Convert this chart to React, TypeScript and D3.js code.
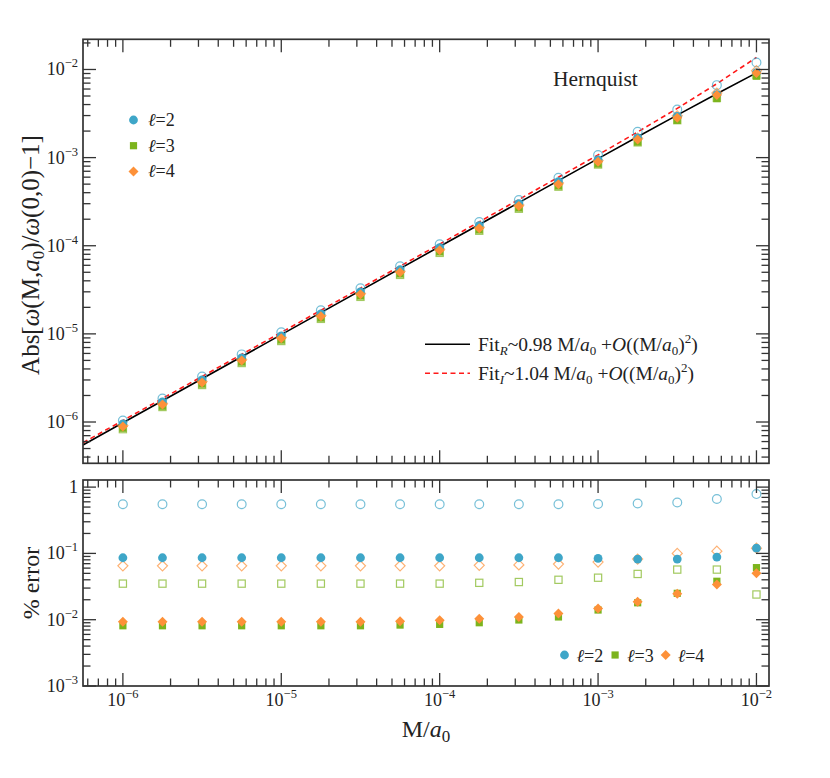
import React from 'react';
import * as d3 from 'd3';

// M/a0 sample points (quarter decades)
const massRatio = [1e-6, 1.778e-6, 3.162e-6, 5.623e-6, 1e-5, 1.778e-5, 3.162e-5, 5.623e-5, 1e-4, 1.778e-4, 3.162e-4, 5.623e-4, 1e-3, 1.778e-3, 3.162e-3, 5.623e-3, 1e-2];

// top panel: Abs[w(M,a0)/w(0,0)-1], filled = real part, open = imaginary part
const topRe2 = [9.5e-7, 1.69e-6, 3.0e-6, 5.34e-6, 9.5e-6, 1.69e-5, 3.0e-5, 5.34e-5, 9.5e-5, 1.69e-4, 3.0e-4, 5.33e-4, 9.45e-4, 1.67e-3, 2.94e-3, 5.17e-3, 9.2e-3];
const topRe3 = [8.5e-7, 1.51e-6, 2.69e-6, 4.78e-6, 8.5e-6, 1.51e-5, 2.69e-5, 4.78e-5, 8.5e-5, 1.51e-4, 2.68e-4, 4.76e-4, 8.45e-4, 1.5e-3, 2.65e-3, 4.67e-3, 8.4e-3];
const topRe4 = [8.9e-7, 1.58e-6, 2.81e-6, 5.0e-6, 8.9e-6, 1.58e-5, 2.81e-5, 5.0e-5, 8.9e-5, 1.58e-4, 2.82e-4, 5.0e-4, 8.97e-4, 1.61e-3, 2.83e-3, 5.12e-3, 9.15e-3];
const topIm2 = [1.04e-6, 1.85e-6, 3.29e-6, 5.85e-6, 1.04e-5, 1.85e-5, 3.29e-5, 5.86e-5, 1.04e-4, 1.86e-4, 3.31e-4, 5.91e-4, 1.07e-3, 1.96e-3, 3.52e-3, 6.64e-3, 1.2e-2];
const topIm3 = [8.3e-7, 1.48e-6, 2.63e-6, 4.67e-6, 8.3e-6, 1.48e-5, 2.63e-5, 4.67e-5, 8.3e-5, 1.48e-4, 2.63e-4, 4.68e-4, 8.35e-4, 1.49e-3, 2.66e-3, 4.76e-3, 8.6e-3];
const topIm4 = [9.1e-7, 1.62e-6, 2.88e-6, 5.12e-6, 9.1e-6, 1.62e-5, 2.88e-5, 5.12e-5, 9.1e-5, 1.62e-4, 2.89e-4, 5.15e-4, 9.25e-4, 1.66e-3, 2.98e-3, 5.4e-3, 9.7e-3];

// fit curves
const fitX = [5.6e-7, 1e-6, 1e-5, 1e-4, 1e-3, 1.778e-3, 3.162e-3, 5.623e-3, 1e-2];
const fitR = [5.49e-7, 9.8e-7, 9.8e-6, 9.79e-5, 9.735e-4, 1.724e-3, 3.032e-3, 5.3e-3, 9.15e-3];
const fitI = [5.82e-7, 1.04e-6, 1.04e-5, 1.043e-4, 1.073e-3, 1.956e-3, 3.616e-3, 6.89e-3, 1.37e-2];

// bottom panel: % error
const errRe2 = [0.086, 0.086, 0.086, 0.086, 0.086, 0.086, 0.086, 0.086, 0.086, 0.086, 0.086, 0.086, 0.084, 0.082, 0.082, 0.088, 0.12];
const errRe3 = [0.0081, 0.0081, 0.0081, 0.0081, 0.0081, 0.0081, 0.0081, 0.0083, 0.0085, 0.009, 0.0099, 0.011, 0.014, 0.018, 0.025, 0.038, 0.061];
const errRe4 = [0.0093, 0.0093, 0.0093, 0.0093, 0.0093, 0.0093, 0.0093, 0.0095, 0.0098, 0.0103, 0.011, 0.0124, 0.0148, 0.0187, 0.0247, 0.034, 0.05];
const errIm2 = [0.55, 0.55, 0.55, 0.55, 0.55, 0.55, 0.55, 0.55, 0.55, 0.55, 0.55, 0.55, 0.555, 0.567, 0.587, 0.66, 0.785];
const errIm3 = [0.035, 0.035, 0.035, 0.035, 0.035, 0.035, 0.035, 0.035, 0.035, 0.036, 0.037, 0.04, 0.043, 0.049, 0.057, 0.057, 0.024];
const errIm4 = [0.065, 0.065, 0.065, 0.065, 0.065, 0.065, 0.065, 0.065, 0.065, 0.066, 0.067, 0.069, 0.074, 0.082, 0.1, 0.108, 0.12];

const BLUE = '#3ea6c8';
const GREEN = '#7cb41d';
const ORANGE = '#fd9139';
const AXIS = '#333333';
const FONT = '"Liberation Serif", "DejaVu Serif", serif';

const x = d3.scaleLog().domain([5.6e-7, 1.2e-2]).range([83, 769]);
const yTop = d3.scaleLog().domain([3.4e-7, 2.2e-2]).range([463.3, 39.3]);
const yBot = d3.scaleLog().domain([1e-3, 1.28]).range([686, 480]);

const isMajor = (t: number) => Math.abs(Math.log10(t) - Math.round(Math.log10(t))) < 1e-6;

const Pow = ({ e }: { e: number }) => (
  <>
    10<tspan dy={-8} fontSize={12.5}>{'\u2212' + Math.abs(e)}</tspan>
  </>
);

function Frame({ y, xLabels, yLabel }: { y: any; xLabels: boolean; yLabel: (t: number) => any }) {
  const [x0, x1] = x.range();
  const [y1, y0] = y.range();
  const xt = x.ticks();
  const yt = y.ticks();
  return (
    <g>
      {xt.map((t: number, i: number) => {
        const len = isMajor(t) ? 13 : 7.5;
        const px = x(t);
        return (
          <g key={'x' + i} stroke={AXIS} strokeWidth={1.3}>
            <line x1={px} x2={px} y1={y1} y2={y1 - len} />
            <line x1={px} x2={px} y1={y0} y2={y0 + len} />
          </g>
        );
      })}
      {yt.map((t: number, i: number) => {
        const len = isMajor(t) ? 13 : 7.5;
        const py = y(t);
        return (
          <g key={'y' + i} stroke={AXIS} strokeWidth={1.3}>
            <line x1={x0} x2={x0 + len} y1={py} y2={py} />
            <line x1={x1} x2={x1 - len} y1={py} y2={py} />
          </g>
        );
      })}
      <rect x={x0} y={y0} width={x1 - x0} height={y1 - y0} fill="none" stroke={AXIS} strokeWidth={1.7} />
      {yt.filter(isMajor).map((t: number, i: number) => (
        <text key={'yl' + i} x={x0 - 5} y={y(t) + 6} textAnchor="end" fontSize={18} fill="#222">
          {yLabel(t)}
        </text>
      ))}
      {xLabels &&
        xt.filter(isMajor).map((t: number, i: number) => (
          <text key={'xl' + i} x={x(t)} y={y1 + 20} textAnchor="middle" fontSize={18} fill="#222">
            <Pow e={Math.round(Math.log10(t))} />
          </text>
        ))}
    </g>
  );
}

const diamond = (cx: number, cy: number, r: number) => `M${cx},${cy - r}L${cx + r},${cy}L${cx},${cy + r}L${cx - r},${cy}Z`;

function Marks({ vals, y, shape, color, open }: { vals: number[]; y: any; shape: string; color: string; open?: boolean }) {
  const fill = open ? 'none' : color;
  const stroke = open ? color : 'none';
  const sw = open ? 1.2 : 0;
  const op = open ? 0.7 : 1;
  return (
    <g opacity={op}>
      {vals.map((v, i) => {
        const cx = x(massRatio[i]);
        const cy = y(v);
        if (shape === 'circle') return <circle key={i} cx={cx} cy={cy} r={4.4} fill={fill} stroke={stroke} strokeWidth={sw} />;
        if (shape === 'square') return <rect key={i} x={cx - 3.6} y={cy - 3.6} width={7.2} height={7.2} fill={fill} stroke={stroke} strokeWidth={sw} />;
        return <path key={i} d={diamond(cx, cy, 5)} fill={fill} stroke={stroke} strokeWidth={sw} />;
      })}
    </g>
  );
}

const Ell = ({ n }: { n: number }) => (
  <>
    <tspan fontStyle="italic">{'\u2113'}</tspan>={n}
  </>
);

export default function App() {
  const fitLine = d3
    .line<number>()
    .x((_, i) => x(fitX[i]))
    .y((d) => yTop(d));
  const topLegend = [
    { shape: 'circle', color: BLUE, n: 2 },
    { shape: 'square', color: GREEN, n: 3 },
    { shape: 'diamond', color: ORANGE, n: 4 },
  ];
  const legendMark = (shape: string, color: string, cx: number, cy: number) =>
    shape === 'circle' ? (
      <circle cx={cx} cy={cy} r={4.4} fill={color} />
    ) : shape === 'square' ? (
      <rect x={cx - 3.6} y={cy - 3.6} width={7.2} height={7.2} fill={color} />
    ) : (
      <path d={diamond(cx, cy, 5)} fill={color} />
    );

  return (
    <svg width={830} height={778} style={{ display: 'block', position: 'absolute', left: 0, top: 0 }} fontFamily={FONT}>
      <rect width={830} height={778} fill="#fff" />
      <defs>
        <clipPath id="topClip">
          <rect x={83} y={39.3} width={686} height={424} />
        </clipPath>
      </defs>

      {/* top panel */}
      <g clipPath="url(#topClip)">
        <path d={fitLine(fitR) || ''} fill="none" stroke="#000" strokeWidth={1.6} />
        <path d={fitLine(fitI) || ''} fill="none" stroke="#ff1a1a" strokeWidth={1.6} strokeDasharray="5,3.5" />
        <Marks vals={topIm2} y={yTop} shape="circle" color={BLUE} open />
        <Marks vals={topIm3} y={yTop} shape="square" color={GREEN} open />
        <Marks vals={topIm4} y={yTop} shape="diamond" color={ORANGE} open />
        <Marks vals={topRe2} y={yTop} shape="circle" color={BLUE} />
        <Marks vals={topRe3} y={yTop} shape="square" color={GREEN} />
        <Marks vals={topRe4} y={yTop} shape="diamond" color={ORANGE} />
      </g>
      <Frame y={yTop} xLabels={false} yLabel={(t) => <Pow e={Math.round(Math.log10(t))} />} />

      <text x={553} y={86} fontSize={21.5} fill="#222">Hernquist</text>

      {topLegend.map((d, i) => (
        <g key={i}>
          {legendMark(d.shape, d.color, 133.5, 120 + i * 25.7)}
          <text x={148} y={120 + i * 25.7 + 6} fontSize={18} fill="#222">
            <Ell n={d.n} />
          </text>
        </g>
      ))}

      <line x1={425} x2={470} y1={344.3} y2={344.3} stroke="#000" strokeWidth={1.6} />
      <line x1={425} x2={470} y1={373.3} y2={373.3} stroke="#ff1a1a" strokeWidth={1.6} strokeDasharray="5,3.5" />
      <text x={478} y={351} fontSize={19.5} fill="#222">
        Fit<tspan fontSize={13} dy={4} fontStyle="italic">R</tspan>
        <tspan dy={-4}>~0.98 M/</tspan><tspan fontStyle="italic">a</tspan>
        <tspan fontSize={13} dy={4}>0</tspan>
        <tspan dy={-4}> +</tspan><tspan fontStyle="italic">O</tspan>((M/<tspan fontStyle="italic">a</tspan>
        <tspan fontSize={13} dy={4}>0</tspan>
        <tspan dy={-4}>)</tspan><tspan fontSize={13} dy={-8}>2</tspan><tspan dy={8}>)</tspan>
      </text>
      <text x={478} y={380} fontSize={19.5} fill="#222">
        Fit<tspan fontSize={13} dy={4} fontStyle="italic">I</tspan>
        <tspan dy={-4}>~1.04 M/</tspan><tspan fontStyle="italic">a</tspan>
        <tspan fontSize={13} dy={4}>0</tspan>
        <tspan dy={-4}> +</tspan><tspan fontStyle="italic">O</tspan>((M/<tspan fontStyle="italic">a</tspan>
        <tspan fontSize={13} dy={4}>0</tspan>
        <tspan dy={-4}>)</tspan><tspan fontSize={13} dy={-8}>2</tspan><tspan dy={8}>)</tspan>
      </text>

      {/* bottom panel */}
      <Marks vals={errIm2} y={yBot} shape="circle" color={BLUE} open />
      <Marks vals={errIm3} y={yBot} shape="square" color={GREEN} open />
      <Marks vals={errIm4} y={yBot} shape="diamond" color={ORANGE} open />
      <Marks vals={errRe2} y={yBot} shape="circle" color={BLUE} />
      <Marks vals={errRe3} y={yBot} shape="square" color={GREEN} />
      <Marks vals={errRe4} y={yBot} shape="diamond" color={ORANGE} />
      <Frame
        y={yBot}
        xLabels={true}
        yLabel={(t) => (Math.abs(t - 1) < 1e-9 ? '1' : <Pow e={Math.round(Math.log10(t))} />)}
      />

      {topLegend.map((d, i) => (
        <g key={'b' + i}>
          {legendMark(d.shape, d.color, 564.5 + i * 50.6, 655)}
          <text x={576.5 + i * 50.6} y={661.5} fontSize={18} fill="#222">
            <Ell n={d.n} />
          </text>
        </g>
      ))}

      {/* axis titles */}
      <text transform="translate(39,255) rotate(-90)" textAnchor="middle" fontSize={25} fill="#222">
        Abs[<tspan fontStyle="italic">ω</tspan>(M,<tspan fontStyle="italic">a</tspan>
        <tspan fontSize={17} dy={5}>0</tspan>
        <tspan dy={-5}>)/</tspan><tspan fontStyle="italic">ω</tspan>(0,0)−1]
      </text>
      <text transform="translate(39,583) rotate(-90)" textAnchor="middle" fontSize={24} fill="#222">
        % error
      </text>
      <text x={426} y={737} textAnchor="middle" fontSize={24} fill="#222">
        M/<tspan fontStyle="italic">a</tspan>
        <tspan fontSize={17} dy={5}>0</tspan>
      </text>
    </svg>
  );
}
